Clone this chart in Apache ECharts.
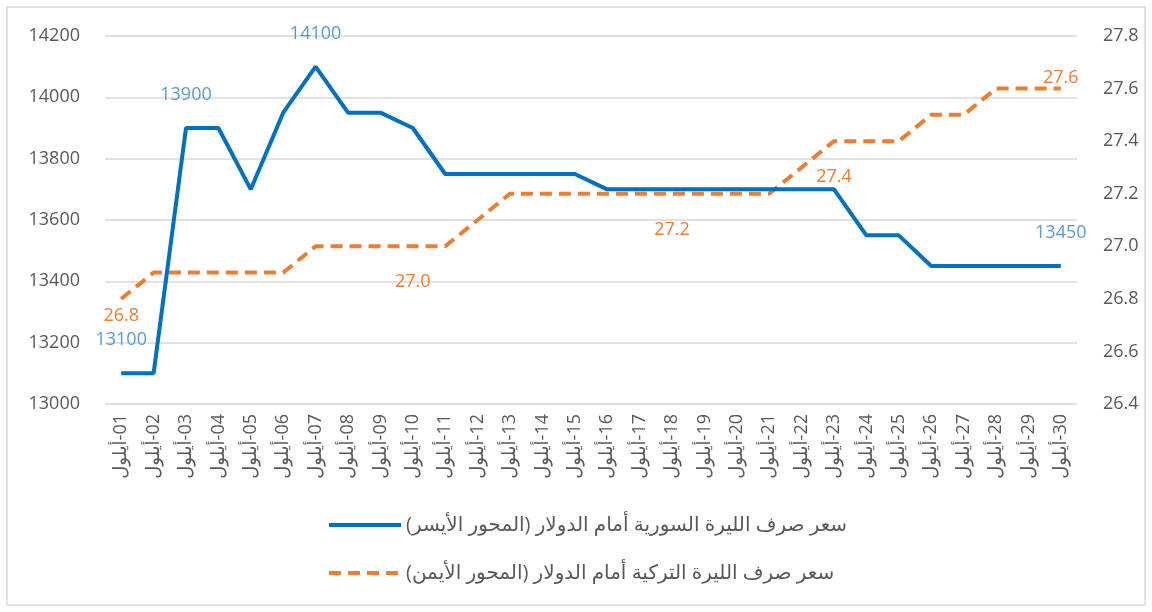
<!DOCTYPE html>
<html>
<head>
<meta charset="utf-8">
<script src="https://cdn.jsdelivr.net/npm/echarts@6/dist/echarts.min.js"></script>
<style>
  html, body { margin: 0; padding: 0; background: #fff; }
  #chart { width: 1152px; height: 612px; }
</style>
</head>
<body>
<div id="chart"></div>
<script>
// days of September (أيلول)
const days = ['01', '02', '03', '04', '05', '06', '07', '08', '09', '10',
  '11', '12', '13', '14', '15', '16', '17', '18', '19', '20',
  '21', '22', '23', '24', '25', '26', '27', '28', '29', '30']
const monthName = 'أيلول'

// Syrian pound vs dollar (left axis)
const syrianRate = [13100, 13100, 13900, 13900, 13700, 13950, 14100, 13950, 13950, 13900,
  13750, 13750, 13750, 13750, 13750, 13700, 13700, 13700, 13700, 13700,
  13700, 13700, 13700, 13550, 13550, 13450, 13450, 13450, 13450, 13450]

// Turkish lira vs dollar (right axis)
const turkishRate = [26.8, 26.9, 26.9, 26.9, 26.9, 26.9, 27.0, 27.0, 27.0, 27.0,
  27.0, 27.1, 27.2, 27.2, 27.2, 27.2, 27.2, 27.2, 27.2, 27.2,
  27.2, 27.3, 27.4, 27.4, 27.4, 27.5, 27.5, 27.6, 27.6, 27.6]

const syrianName = '\u200Fسعر صرف الليرة السورية أمام الدولار (المحور الأيسر)\u200F'
const turkishName = '\u200Fسعر صرف الليرة التركية أمام الدولار (المحور الأيمن)\u200F'

// which points carry a value label, and where
const syrianLabels = { 0: 'top', 2: 'top', 6: 'top', 29: 'top' }
const turkishLabels = { 0: ['bottom', 6], 9: ['bottom', 25], 17: ['bottom', 25], 22: ['bottom', 25], 29: ['top', 0] }

const FONT = "'Open Sans', 'Noto Sans', 'DejaVu Sans', sans-serif"
const BLUE = '#0070c0'
const ORANGE = '#ed7d31'
const GREY = '#595959'
const CLEAR = 'rgba(0,0,0,0)'

const syrianData = syrianRate.map((v, i) => {
  if (syrianLabels[i] === undefined) return v
  return { value: v, label: { show: true, position: syrianLabels[i], distance: 22 } }
})

const turkishData = turkishRate.map((v, i) => {
  const l = turkishLabels[i]
  if (!l) return v
  return { value: v, label: { show: true, position: l[0], distance: l[1] } }
})

const chart = echarts.init(document.getElementById('chart'))

chart.setOption({
  animation: false,
  backgroundColor: '#fff',
  textStyle: { fontFamily: FONT },
  graphic: [{
    type: 'rect',
    shape: { x: 7, y: 7, width: 1138, height: 598 },
    style: { fill: 'none', stroke: '#d9d9d9', lineWidth: 1.5 },
    silent: true
  }],
  grid: { left: 105, right: 75, top: 36, bottom: 208 },
  legend: {
    orient: 'vertical',
    left: 322,
    top: 510,
    itemGap: 28,
    itemWidth: 72,
    itemHeight: 14,
    itemStyle: { opacity: 0 },
    lineStyle: { width: 4 },
    textStyle: { fontSize: 20, color: GREY, fontFamily: FONT },
    data: [syrianName, turkishName]
  },
  xAxis: {
    type: 'category',
    data: days,
    boundaryGap: true,
    axisLine: { show: false },
    axisTick: { show: false },
    axisLabel: {
      rotate: 90,
      margin: 10,
      fontSize: 18,
      color: GREY,
      interval: 0,
      formatter: d => monthName + '\u200E-' + d
    }
  },
  yAxis: [{
    type: 'value',
    min: 13000,
    max: 14200,
    interval: 200,
    axisLine: { show: false },
    axisTick: { show: false },
    axisLabel: { fontSize: 18, color: GREY, margin: 25, formatter: v => String(v) },
    splitLine: { lineStyle: { color: '#d9d9d9', width: 1.5 } }
  }, {
    type: 'value',
    min: 26.4,
    max: 27.8,
    interval: 0.2,
    axisLine: { show: false },
    axisTick: { show: false },
    axisLabel: { fontSize: 18, color: GREY, margin: 26, formatter: v => v.toFixed(1) },
    splitLine: { show: false }
  }],
  series: [{
    name: syrianName,
    type: 'line',
    yAxisIndex: 0,
    data: syrianData,
    symbol: 'circle',
    symbolSize: 4,
    showSymbol: true,
    showAllSymbol: true,
    itemStyle: { color: CLEAR, borderWidth: 0 },
    lineStyle: { color: BLUE, width: 4 },
    label: { color: '#5b9bd5', fontSize: 18, fontFamily: FONT, opacity: 1 },
    z: 3
  }, {
    name: turkishName,
    type: 'line',
    yAxisIndex: 1,
    data: turkishData,
    symbol: 'circle',
    symbolSize: 4,
    showSymbol: true,
    showAllSymbol: true,
    itemStyle: { color: CLEAR, borderWidth: 0 },
    lineStyle: { color: ORANGE, width: 4, type: [12, 7] },
    label: { color: ORANGE, fontSize: 18, fontFamily: FONT, opacity: 1, formatter: p => p.value.toFixed(1) },
    z: 2
  }]
})
</script>
</body>
</html>
